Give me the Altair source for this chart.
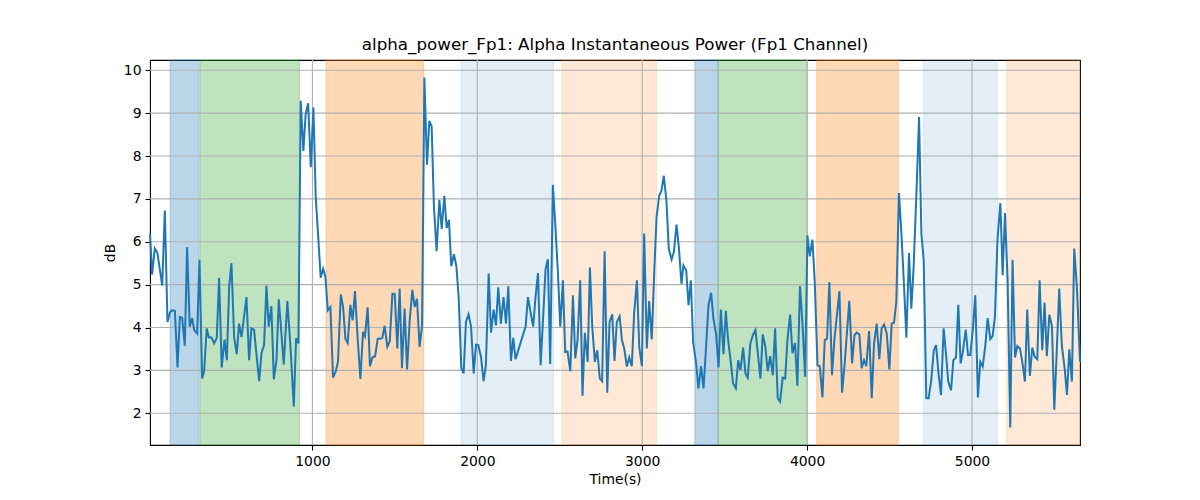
import altair as alt
import pandas as pd

FONT = "DejaVu Sans"
LINE_COLOR = "#1f77b4"
GRID_COLOR = "#b0b0b0"

# alpha power samples (seconds, dB)
TIME_S = [
    15, 28, 44, 60, 89, 105, 121, 137, 149, 166, 182, 196, 210, 226, 240, 256, 271, 283, 301, 315,
    331, 343, 359, 372, 388, 404, 420, 434, 450, 467, 481, 495, 509, 525, 541, 555, 570, 584, 600, 616,
    630, 646, 660, 677, 691, 707, 721, 735, 751, 766, 782, 796, 812, 826, 848,
    867, 887, 901, 915, 929, 945, 959, 974, 990, 1006, 1020, 1034, 1050, 1065, 1079, 1093, 1109, 1125, 1141, 1155,
    1172, 1186, 1200, 1214, 1230, 1244, 1258, 1275, 1291, 1307, 1319, 1335, 1349, 1364, 1380, 1396, 1412, 1424, 1438, 1454,
    1469, 1485, 1499, 1515, 1529, 1543, 1559, 1574, 1590, 1606, 1620, 1634, 1650,
    1665, 1679, 1695, 1709, 1723, 1737, 1753, 1770, 1784, 1800, 1814, 1828, 1842, 1858, 1873, 1887, 1903, 1917, 1931, 1947,
    1962, 1978, 1992, 2006, 2022, 2038, 2052, 2069, 2083, 2099, 2113, 2127, 2143, 2159, 2174, 2188, 2204, 2218, 2232, 2247,
    2262, 2277, 2293, 2307, 2323, 2339, 2353, 2368, 2384, 2400, 2414, 2428, 2442, 2458, 2473,
    2489, 2503, 2519, 2533, 2547, 2564, 2580, 2594, 2608, 2624, 2638, 2652, 2669, 2683, 2697, 2713, 2727, 2743, 2757, 2772,
    2788, 2802, 2818, 2832, 2846, 2863, 2877, 2891, 2907, 2921, 2937, 2951, 2968, 2982, 2998, 3012, 3028, 3042, 3058, 3073,
    3087, 3103, 3117, 3131, 3147, 3161, 3178, 3192, 3208, 3222, 3238, 3250, 3267, 3281, 3295, 3309,
    3327, 3341, 3357, 3372, 3388, 3402, 3418, 3432, 3448, 3463, 3477, 3493, 3507, 3521, 3537, 3551, 3568, 3582, 3596, 3612,
    3626, 3640, 3656, 3671, 3687, 3701, 3717, 3731, 3747, 3761, 3776, 3792, 3806, 3822, 3836, 3852, 3867, 3881, 3897, 3911,
    3927, 3941, 3957, 3972, 3988, 4002, 4016, 4032, 4046, 4063, 4077, 4093, 4107, 4121,
    4135, 4151, 4166, 4182, 4196, 4212, 4228, 4242, 4256, 4273, 4287, 4301, 4317, 4331, 4345, 4359, 4376, 4392, 4406, 4422,
    4438, 4452, 4467, 4483, 4499, 4513, 4527, 4541, 4557, 4572, 4588, 4602, 4618, 4632, 4646, 4663, 4679, 4693, 4707, 4723,
    4737, 4753, 4768, 4782, 4798, 4812, 4828, 4842, 4856, 4873, 4887, 4903, 4917, 4931, 4945,
    4962, 4976, 4990, 5006, 5020, 5036, 5050, 5065, 5081, 5095, 5111, 5125, 5139, 5155, 5172, 5186, 5200, 5216, 5232, 5246,
    5261, 5275, 5291, 5305, 5321, 5335, 5351, 5366, 5380, 5396, 5410, 5426, 5440, 5454, 5469, 5485, 5499, 5515, 5529, 5545,
    5562, 5576, 5590, 5606, 5620, 5636, 5655,
]
POWER_DB = [
    6.2, 5.24, 5.84, 5.74, 4.98, 6.73, 4.13, 4.36, 4.40, 4.39, 3.07, 4.25, 4.23, 3.57, 5.88, 4.02, 4.22, 3.94, 3.86, 5.58,
    2.81, 2.97, 3.98, 3.77, 3.77, 3.63, 3.76, 5.16, 3.07, 3.72, 3.24, 4.95, 5.50, 3.78, 3.38, 4.09, 3.78, 4.21, 4.71, 3.24,
    3.98, 3.95, 3.40, 2.75, 3.40, 3.59, 4.98, 4.02, 4.50, 2.79, 3.24, 4.66, 3.86, 3.14, 4.62,
    3.55, 2.16, 3.75, 3.63, 9.29, 8.12, 8.98, 9.23, 7.74, 9.13, 7.04, 6.19, 5.16, 5.37, 5.18, 4.40, 4.48, 2.83, 2.97, 3.20,
    4.77, 4.48, 3.74, 3.64, 4.53, 4.17, 4.85, 3.71, 2.80, 3.90, 3.80, 4.47, 3.10, 3.30, 3.33, 3.74, 3.74, 3.76, 4.04, 3.55,
    3.68, 4.79, 4.79, 3.51, 4.91, 3.05, 4.44, 3.02, 4.17, 4.88, 4.48, 4.67, 3.55,
    4.05, 9.83, 7.80, 8.82, 8.69, 6.81, 5.78, 6.98, 6.30, 7.07, 6.32, 6.51, 5.43, 5.71, 5.43, 4.71, 3.05, 2.93, 4.13, 4.31,
    4.02, 2.93, 3.60, 3.59, 3.32, 2.75, 3.12, 5.26, 3.88, 4.42, 4.05, 4.94, 4.09, 4.71, 4.09, 4.96, 3.22, 3.76, 3.26, 3.45,
    3.64, 3.83, 4.02, 4.71, 4.35, 4.02, 4.71, 5.27, 3.12, 4.30, 5.37, 5.59, 3.15, 7.33, 6.40,
    5.26, 4.02, 5.10, 3.43, 3.44, 2.98, 4.75, 3.28, 3.71, 5.10, 2.41, 3.88, 3.20, 5.40, 4.02, 3.20, 3.47, 2.81, 2.75, 5.78,
    2.48, 4.13, 4.31, 3.22, 4.13, 4.26, 3.71, 3.51, 3.09, 3.30, 3.10, 4.33, 5.10, 3.55, 3.10, 6.19, 3.51, 4.62, 3.72, 5.30,
    6.57, 7.08, 7.19, 7.54, 6.96, 5.84, 5.59, 5.76, 6.40, 5.88, 5.02, 5.45, 5.33, 4.52, 5.10, 3.65,
    3.16, 2.58, 3.10, 2.58, 3.59, 4.52, 4.81, 4.21, 3.84, 3.07, 4.42, 3.38, 4.39, 3.71, 3.20, 2.70, 2.58, 3.24, 3.01, 3.53,
    2.93, 2.83, 3.63, 3.82, 3.94, 3.40, 2.81, 3.84, 3.55, 2.98, 3.33, 2.89, 3.98, 2.35, 2.27, 2.83, 2.81, 3.72, 4.30, 3.40,
    3.64, 2.64, 4.97, 4.09, 2.85, 6.15, 5.66, 6.05, 5.10, 3.12, 3.10, 2.37, 3.71, 3.74,
    5.06, 2.89, 3.74, 4.33, 4.85, 2.48, 3.16, 3.90, 4.62, 3.16, 3.82, 3.88, 3.84, 3.05, 3.24, 3.10, 3.92, 2.35, 3.63, 4.09,
    3.26, 3.98, 4.07, 3.86, 3.02, 4.09, 4.11, 4.60, 7.14, 6.19, 4.95, 3.76, 5.74, 4.44, 5.41, 7.13, 8.91, 6.19, 5.57, 2.35,
    2.35, 2.78, 3.46, 3.59, 2.89, 2.43, 3.98, 3.40, 2.74, 2.54, 3.24, 3.30, 4.53, 3.16, 3.45,
    3.95, 3.36, 3.36, 4.00, 4.75, 2.37, 3.20, 3.09, 3.59, 4.22, 3.73, 3.80, 4.25, 6.07, 6.90, 5.22, 6.67, 5.10, 1.67, 5.58,
    3.30, 3.57, 3.51, 3.20, 2.74, 4.42, 2.87, 3.53, 3.32, 3.26, 5.10, 3.47, 4.58, 3.33, 4.30, 4.03, 2.08, 3.55, 4.91, 3.57,
    3.05, 2.43, 3.49, 2.74, 5.84, 4.95, 3.20,
]

# shaded task periods
BAND_START = [137, 319, 1083, 1901, 2513, 3319, 3460, 4058, 4707, 5210]
BAND_END = [313, 921, 1675, 2463, 3087, 3460, 4002, 4553, 5154, 5655]
BAND_COLOR = ["#1f77b4", "#2ca02c", "#ff7f0e", "#1f77b4", "#ff7f0e",
              "#1f77b4", "#2ca02c", "#ff7f0e", "#1f77b4", "#ff7f0e"]
BAND_ALPHA = [0.3, 0.3, 0.3, 0.12, 0.17, 0.3, 0.3, 0.3, 0.12, 0.17]

X_TICKS = [1000, 2000, 3000, 4000, 5000]
Y_TICKS = [2, 3, 4, 5, 6, 7, 8, 9, 10]
X_DOMAIN = [15, 5655]
Y_DOMAIN = [1.26, 10.24]

power_df = pd.DataFrame({"time": TIME_S, "power": POWER_DB})
band_df = pd.DataFrame({"start": BAND_START, "end": BAND_END,
                        "color": BAND_COLOR, "alpha": BAND_ALPHA})

x_scale = alt.Scale(domain=X_DOMAIN, nice=False, zero=False)
y_scale = alt.Scale(domain=Y_DOMAIN, nice=False, zero=False)

x_axis = alt.Axis(
    values=X_TICKS, format="d", grid=False, domain=False,
    tickColor="black", tickSize=5, tickWidth=1.1,
    labelFont=FONT, labelFontSize=13.9, labelColor="black", labelPadding=4,
    title="Time(s)", titleFont=FONT, titleFontSize=13.9, titleFontWeight="normal",
    titleColor="black", titlePadding=5,
)
y_axis = alt.Axis(
    values=Y_TICKS, format="d", grid=False, domain=False,
    tickColor="black", tickSize=5, tickWidth=1.1,
    labelFont=FONT, labelFontSize=13.9, labelColor="black", labelPadding=4,
    title="dB", titleFont=FONT, titleFontSize=13.9, titleFontWeight="normal",
    titleColor="black", titlePadding=6,
)

bands = (
    alt.Chart(band_df)
    .mark_rect(strokeWidth=1)
    .encode(
        x=alt.X("start:Q", scale=x_scale, axis=x_axis),
        x2="end:Q",
        y=alt.Y(datum=Y_DOMAIN[0], type="quantitative", scale=y_scale, axis=y_axis),
        y2=alt.datum(Y_DOMAIN[1]),
        fill=alt.Fill("color:N", scale=None),
        stroke=alt.Stroke("color:N", scale=None),
        fillOpacity=alt.FillOpacity("alpha:Q", scale=None),
        strokeOpacity=alt.StrokeOpacity("alpha:Q", scale=None),
    )
)

vgrid = (
    alt.Chart(pd.DataFrame({"t": X_TICKS}))
    .mark_rule(color=GRID_COLOR, strokeWidth=1.1)
    .encode(x=alt.X("t:Q", scale=x_scale, axis=x_axis))
)

hgrid = (
    alt.Chart(pd.DataFrame({"v": Y_TICKS}))
    .mark_rule(color=GRID_COLOR, strokeWidth=1.1)
    .encode(y=alt.Y("v:Q", scale=y_scale, axis=y_axis))
)

line = (
    alt.Chart(power_df)
    .mark_line(color=LINE_COLOR, strokeWidth=2)
    .encode(
        x=alt.X("time:Q", scale=x_scale, axis=x_axis),
        y=alt.Y("power:Q", scale=y_scale, axis=y_axis),
    )
)

chart = (
    alt.layer(bands, vgrid, hgrid, line)
    .properties(
        width=930,
        height=385,
        title=alt.TitleParams(
            "alpha_power_Fp1: Alpha Instantaneous Power (Fp1 Channel)",
            font=FONT, fontSize=16.7, fontWeight="normal", color="black",
            anchor="middle", offset=6,
        ),
        autosize=alt.AutoSizeParams(type="none"),
        padding={"left": 142, "top": 52, "right": 112, "bottom": 47},
    )
    .configure(font=FONT)
    .configure_view(stroke="black", strokeWidth=1.1)
)

chart.save("out.html", embed_options={"renderer": "svg", "actions": False})
